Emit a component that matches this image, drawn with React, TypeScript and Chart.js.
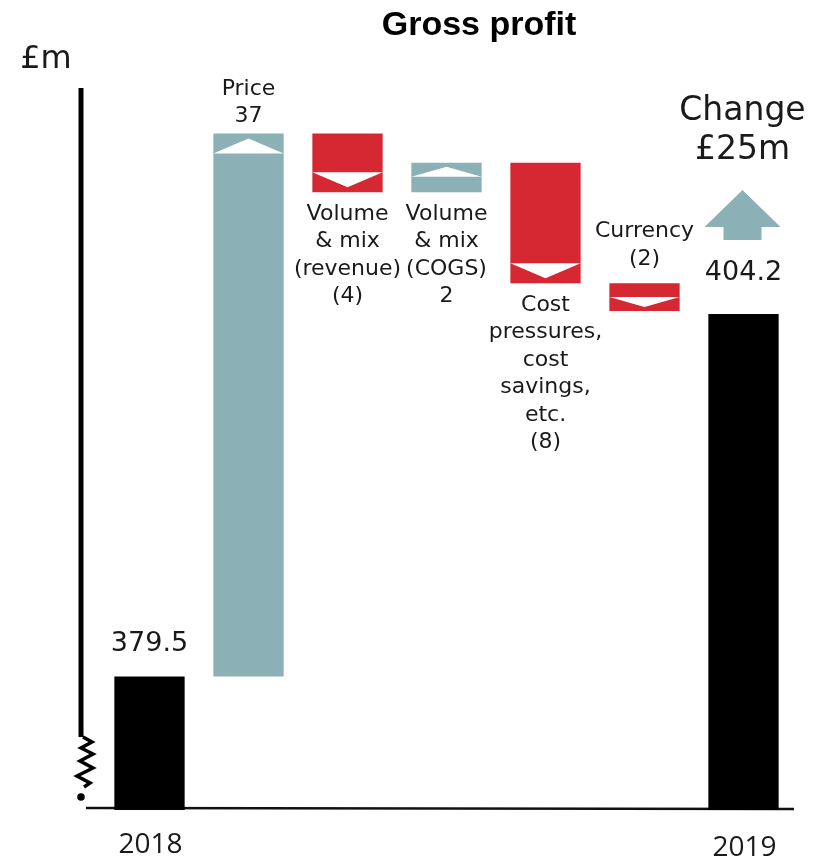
import React, { useEffect, useRef } from "react";
import { Chart, registerables } from "chart.js";

Chart.register(...registerables);

const categories = [
  "2018",
  "Price",
  "Volume & mix (revenue)",
  "Volume & mix (COGS)",
  "Cost pressures, cost savings, etc.",
  "Currency",
  "2019",
];
const startValue = 379.5;
const endValue = 404.2;
const deltas = [37, -4, 2, -8.2, -1.9];
const deltaLabels = [
  ["Price", "37"],
  ["Volume", "& mix", "(revenue)", "(4)"],
  ["Volume", "& mix", "(COGS)", "2"],
  ["Cost", "pressures,", "cost", "savings,", "etc.", "(8)"],
  ["Currency", "(2)"],
];
const labelAbove = [true, false, false, false, true];
const valueLabels = ["379.5", "404.2"];
const changeText = ["Change", "£25m"];
const titleText = "Gross profit";
const unitText = "£m";

const AXIS_MIN = 370.4;
const AXIS_MAX = 419.6;

const TEAL = "rgb(139,176,181)";
const RED = "rgb(213,40,51)";
const BLACK = "#000000";

function buildBars() {
  const bars: [number, number][] = [];
  const colors: string[] = [];
  bars.push([AXIS_MIN, startValue]);
  colors.push(BLACK);
  let cur = startValue;
  deltas.forEach((d) => {
    bars.push([cur, cur + d]);
    colors.push(d >= 0 ? TEAL : RED);
    cur += d;
  });
  bars.push([AXIS_MIN, endValue]);
  colors.push(BLACK);
  return { bars, colors };
}

const LABEL_FONT = "DejaVu Sans";

const overlayPlugin = {
  id: "overlay",
  beforeDatasetsDraw(chart: any) {
    const ctx = chart.ctx;
    const ca = chart.chartArea;
    ctx.save();
    // x axis line
    ctx.strokeStyle = "#111";
    ctx.lineWidth = 2.5;
    ctx.beginPath();
    ctx.moveTo(ca.left - 14, ca.bottom - 2);
    ctx.lineTo(ca.right + 1, ca.bottom - 1);
    ctx.stroke();
    // y axis thick line
    const ax = ca.left - 19;
    ctx.lineWidth = 5;
    ctx.strokeStyle = "#000";
    ctx.beginPath();
    ctx.moveTo(ax, ca.top);
    ctx.lineTo(ax, ca.bottom - 73);
    ctx.stroke();
    // zigzag break
    const b = ca.bottom;
    ctx.lineWidth = 3.5;
    ctx.lineJoin = "miter";
    ctx.beginPath();
    const zz = [
      [2, -73],
      [11, -68],
      [0, -62],
      [12, -56],
      [-1, -49],
      [12, -42],
      [-4, -34],
      [9, -27],
      [3, -23],
    ];
    zz.forEach(([dx, dy], i) => {
      if (i === 0) ctx.moveTo(ax + dx, b + dy);
      else ctx.lineTo(ax + dx, b + dy);
    });
    ctx.stroke();
    ctx.fillStyle = "#000";
    ctx.beginPath();
    ctx.arc(ax, b - 13, 3.8, 0, Math.PI * 2);
    ctx.fill();
    ctx.restore();
  },
  afterDatasetsDraw(chart: any) {
    const ctx = chart.ctx;
    const meta = chart.getDatasetMeta(0);
    const els = meta.data;
    ctx.save();
    // triangles in change bars
    ctx.fillStyle = "#ffffff";
    deltas.forEach((d, i) => {
      const el = els[i + 1];
      const p = el.getProps(["x", "y", "base", "width"], true);
      const top = Math.min(p.y, p.base);
      const bot = Math.max(p.y, p.base);
      const h = bot - top;
      const off = h > 40 ? 5 : 4;
      const th = h > 40 ? 15 : 10;
      const l = p.x - p.width / 2;
      const r = p.x + p.width / 2;
      ctx.beginPath();
      if (d >= 0) {
        ctx.moveTo(p.x, top + off);
        ctx.lineTo(r, top + off + th);
        ctx.lineTo(l, top + off + th);
      } else {
        ctx.moveTo(l, bot - off - th);
        ctx.lineTo(r, bot - off - th);
        ctx.lineTo(p.x, bot - off);
      }
      ctx.closePath();
      ctx.fill();
    });

    ctx.fillStyle = "#1a1a1a";
    ctx.textAlign = "center";
    ctx.textBaseline = "middle";
    // change labels
    ctx.font = `22px "${LABEL_FONT}"`;
    const lh = 27.5;
    const aboveGap = [17, 0, 0, 0, 24];
    deltas.forEach((d, i) => {
      const el = els[i + 1];
      const p = el.getProps(["x", "y", "base", "width"], true);
      const top = Math.min(p.y, p.base);
      const bot = Math.max(p.y, p.base);
      const lines = deltaLabels[i];
      if (labelAbove[i]) {
        const n = lines.length;
        lines.forEach((t, k) => {
          ctx.fillText(t, p.x, top - aboveGap[i] - (n - 1 - k) * lh);
        });
      } else {
        lines.forEach((t, k) => {
          ctx.fillText(t, p.x, bot + 22 + k * lh);
        });
      }
    });

    // totals value labels
    ctx.font = `27px "${LABEL_FONT}"`;
    const valGap = [32, 41];
    [0, 6].forEach((idx, j) => {
      const p = els[idx].getProps(["x", "y", "base"], true);
      ctx.fillText(valueLabels[j], p.x, Math.min(p.y, p.base) - valGap[j]);
    });

    // year labels
    ctx.font = `28px "Open Sans"`;
    [0, 6].forEach((idx, j) => {
      const p = els[idx].getProps(["x", "y", "base"], true);
      ctx.fillText(categories[idx], p.x + 1, chart.chartArea.bottom + 35 + j * 3);
    });

    // change arrow & text
    const last = els[6].getProps(["x", "y", "base"], true);
    const cx = last.x - 1;
    const lastTop = Math.min(last.y, last.base);
    ctx.fillStyle = TEAL;
    ctx.beginPath();
    ctx.moveTo(cx, lastTop - 124);
    ctx.lineTo(cx + 38, lastTop - 87);
    ctx.lineTo(cx + 19, lastTop - 87);
    ctx.lineTo(cx + 19, lastTop - 74);
    ctx.lineTo(cx - 19, lastTop - 74);
    ctx.lineTo(cx - 19, lastTop - 87);
    ctx.lineTo(cx - 38, lastTop - 87);
    ctx.closePath();
    ctx.fill();
    ctx.fillStyle = "#1a1a1a";
    ctx.font = `33px "${LABEL_FONT}"`;
    ctx.fillText(changeText[0], cx, lastTop - 203);
    ctx.fillText(changeText[1], cx, lastTop - 164);

    // title and unit
    ctx.fillStyle = "#000";
    ctx.font = `bold 34px "Liberation Sans"`;
    ctx.fillText(titleText, 479, 26);
    ctx.fillStyle = "#1a1a1a";
    ctx.font = `32px "${LABEL_FONT}"`;
    ctx.fillText(unitText, 46, 60);
    ctx.restore();
  },
};

export default function App() {
  const ref = useRef<HTMLCanvasElement | null>(null);
  useEffect(() => {
    if (!ref.current) return;
    const { bars, colors } = buildBars();
    const chart = new Chart(ref.current, {
      type: "bar",
      data: {
        labels: categories,
        datasets: [
          {
            data: bars as any,
            backgroundColor: colors,
            borderWidth: 0,
            barPercentage: 0.71,
            categoryPercentage: 1,
          },
        ],
      },
      options: {
        responsive: false,
        animation: false,
        layout: { padding: { left: 100, right: 31, top: 88, bottom: 53 } },
        plugins: {
          legend: { display: false },
          tooltip: { enabled: false },
          title: { display: false },
        },
        scales: {
          x: { display: false },
          y: { display: false, min: AXIS_MIN, max: AXIS_MAX },
        },
      },
      plugins: [overlayPlugin],
    });
    return () => chart.destroy();
  }, []);
  return (
    <div style={{ position: "fixed", left: 0, top: 0, width: 824, height: 863, background: "#fff" }}>
      <canvas ref={ref} width={824} height={863} style={{ display: "block" }} />
    </div>
  );
}
